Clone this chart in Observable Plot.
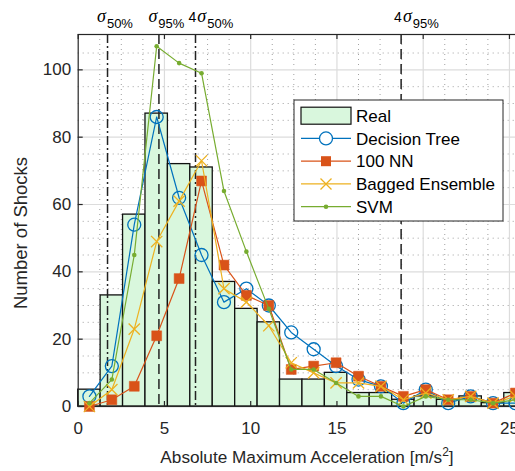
<!DOCTYPE html>
<html><head><meta charset="utf-8">
<script src="https://cdn.jsdelivr.net/npm/d3@7"></script>
<script src="https://cdn.jsdelivr.net/npm/@observablehq/plot@0.6"></script>
<style>
html,body{margin:0;padding:0;background:#fff;overflow:hidden}
#wrap{width:515px;height:471px;overflow:hidden;position:relative;background:#fff}
#wrap svg{display:block;max-width:none !important;width:530px !important;height:471px !important}
</style></head><body><div id="wrap"></div>
<script>
// ---- data ----
const binEdges = [0, 1.3, 2.6, 3.9, 5.2, 6.5, 7.8, 9.1, 10.4, 11.7, 13, 14.3, 15.6, 16.9, 18.2, 19.5, 20.8, 22.1, 23.4, 24.7, 26];
const realCounts   = [5, 33, 57, 87, 72, 71, 37, 29, 25, 8, 8, 10, 4, 4, 2, 3, 2, 3, 1, 4];
const decisionTree = [3, 12, 54, 86, 62, 45, 31, 35, 30, 22, 17, 12, 8, 6, 1, 5, 1, 3, 1, 1];
const nn100        = [0, 2, 6, 21, 38, 67, 42, 33, 30, 11, 12, 13, 9, 6, 3, 5, 2, 3, 1, 4];
const bagged       = [0, 5, 23, 49, 61, 73, 35, 31, 24, 13, 10, 7, 7, 6, 2, 4, 2, 3, 1, 3];
const svm          = [1, 8, 45, 107, 102, 99, 64, 46, 29, 11, 11, 7, 3, 3, 0, 3, 2, 2, 1, 2];
const seriesNames  = ["Decision Tree", "100 NN", "Bagged Ensemble", "SVM"];
const xMajorTicks = [0, 5, 10, 15, 20, 25];
const xMinorTicks = [1.25, 2.5, 3.75, 6.25, 7.5, 8.75, 11.25, 12.5, 13.75, 16.25, 17.5, 18.75, 21.25, 22.5, 23.75];
const yMajorTicks = [0, 20, 40, 60, 80, 100];
const yMinorTicks = [5, 10, 15, 25, 30, 35, 45, 50, 55, 65, 70, 75, 85, 90, 95, 105];
const refNames  = ["σ50%", "σ95%", "4σ50%", "4σ95%"];
const refValues = [1.7, 4.68, 6.8, 18.72];
const refPrefix = ["", "", "4", "4"];
const refSub    = ["50%", "95%", "50%", "95%"];
const refDash   = ["9,3,2,3", "10,5", "9,3,2,3", "10,5"];

// ---- derived tables ----
const bins = realCounts.map((c, i) => ({x1: binEdges[i], x2: binEdges[i + 1], count: c}));
const centers = realCounts.map((c, i) => (binEdges[i] + binEdges[i + 1]) / 2);
const toSeries = arr => arr.map((v, i) => ({x: centers[i], y: v}));
const dtData = toSeries(decisionTree), nnData = toSeries(nn100), bgData = toSeries(bagged), svData = toSeries(svm);
const refs = refValues.map((v, i) => ({x: v, dash: refDash[i]}));

const BLUE = "#0072BD", ORANGE = "#D95319", YELLOW = "#EDB120", GREEN = "#77AC30", AX = "#262626";

const W = 530, H = 471, mL = 77.7, mR = 3.8, mT = 34, mB = 65;
const frameW = W - mL - mR, frameH = H - mT - mB;

const plot = Plot.plot({
  width: W, height: H,
  marginTop: mT, marginBottom: mB, marginLeft: mL, marginRight: mR,
  x: {domain: [0, 26]},
  y: {domain: [0, 110.5]},
  style: {fontFamily: "'Liberation Sans', Arial, Helvetica, sans-serif", fontSize: "17px", color: AX, background: "#fff", overflow: "visible"},
  marks: [
    Plot.ruleX(xMinorTicks, {stroke: "#8a8a8a", strokeWidth: 1, strokeDasharray: "1,4", strokeOpacity: 0.8}),
    Plot.ruleY(yMinorTicks, {stroke: "#8a8a8a", strokeWidth: 1, strokeDasharray: "1,4", strokeOpacity: 0.8}),
    Plot.ruleX(xMajorTicks.slice(1), {stroke: "#dcdcdc", strokeWidth: 1.2}),
    Plot.ruleY(yMajorTicks.slice(1), {stroke: "#dcdcdc", strokeWidth: 1.2}),
    Plot.rect(bins, {x1: "x1", x2: "x2", y1: 0, y2: "count", fill: "#d9f7dd", stroke: "#111", strokeWidth: 1.3}),
    ...refs.map(r => Plot.ruleX([r.x], {stroke: "#222", strokeWidth: 1.5, strokeDasharray: r.dash})),
    Plot.frame({stroke: AX, strokeWidth: 1.2}),
    Plot.ruleX(xMajorTicks, {stroke: AX, strokeWidth: 1.2, insetTop: frameH - 5}),
    Plot.ruleX(xMajorTicks, {stroke: AX, strokeWidth: 1.2, insetBottom: frameH - 5}),
    Plot.ruleY(yMajorTicks, {stroke: AX, strokeWidth: 1.2, insetRight: frameW - 5}),
    Plot.axisX(xMajorTicks, {tickSize: 0, tickPadding: 15, label: null, fill: AX}),
    Plot.axisY(yMajorTicks, {tickSize: 0, tickPadding: 7, label: null, fill: AX}),
    Plot.line(dtData, {x: "x", y: "y", stroke: BLUE, strokeWidth: 1.2}),
    Plot.dot(dtData, {x: "x", y: "y", r: 6.5, stroke: BLUE, fill: "none", strokeWidth: 1.3}),
    Plot.line(nnData, {x: "x", y: "y", stroke: ORANGE, strokeWidth: 1.2}),
    Plot.dot(nnData, {x: "x", y: "y", symbol: "square", r: 5.6, fill: ORANGE, stroke: ORANGE, strokeWidth: 0.5}),
    Plot.line(bgData, {x: "x", y: "y", stroke: YELLOW, strokeWidth: 1.2}),
    Plot.dot(bgData, {x: "x", y: "y", symbol: "times", r: 5.2, stroke: YELLOW, strokeWidth: 1.3}),
    Plot.line(svData, {x: "x", y: "y", stroke: GREEN, strokeWidth: 1.2}),
    Plot.dot(svData, {x: "x", y: "y", r: 2.3, fill: GREEN, stroke: "none"})
  ]
});

plot.style.maxWidth = "none";
document.getElementById("wrap").appendChild(plot);
const svg = d3.select(plot);
const xs = plot.scale("x");

// reference labels above the frame
refValues.forEach((v, i) => {
  const px = xs.apply(v) - (refPrefix[i] ? 6.5 : 10);
  const t = svg.append("text").attr("x", px).attr("y", 22).attr("fill", "#000").attr("text-anchor", "start")
    .style("font-family", "'Liberation Sans', Arial, sans-serif");
  if (refPrefix[i]) t.append("tspan").style("font-size", "14px").text(refPrefix[i]);
  t.append("tspan").style("font-size", "18px").style("font-style", "italic")
    .style("font-family", "'Liberation Serif', 'Times New Roman', serif").attr("dx", refPrefix[i] ? 1 : 0).text("σ");
  t.append("tspan").style("font-size", "13px").attr("dx", 1).attr("dy", 6).text(refSub[i]);
});

// axis titles
const xl = svg.append("text").attr("x", 307).attr("y", 463).attr("text-anchor", "middle").attr("fill", AX)
  .style("font-size", "17.2px");
xl.append("tspan").text("Absolute Maximum Acceleration [m/s");
xl.append("tspan").attr("dy", -7).style("font-size", "12px").text("2");
xl.append("tspan").attr("dy", 7).text("]");
svg.append("text").attr("transform", "translate(27,233) rotate(-90)").attr("text-anchor", "middle")
  .attr("fill", AX).style("font-size", "18.5px").text("Number of Shocks");

// legend
const lg = svg.append("g");
const lx = 294, ly = 100, lw = 209, lh = 121;
lg.append("rect").attr("x", lx).attr("y", ly).attr("width", lw).attr("height", lh).attr("fill", "#fff").attr("stroke", AX).attr("stroke-width", 1);
const rowY = i => 115.7 + i * 22.75;
lg.append("rect").attr("x", 301).attr("y", rowY(0) - 8.5).attr("width", 50).attr("height", 17).attr("fill", "#d9f7dd").attr("stroke", "#111").attr("stroke-width", 1.2);
const cols = [BLUE, ORANGE, YELLOW, GREEN];
cols.forEach((c, i) => {
  const yy = rowY(i + 1);
  lg.append("line").attr("x1", 301).attr("x2", 351).attr("y1", yy).attr("y2", yy).attr("stroke", c).attr("stroke-width", 1.2);
});
lg.append("circle").attr("cx", 326).attr("cy", rowY(1)).attr("r", 6.5).attr("fill", "#fff").attr("stroke", BLUE).attr("stroke-width", 1.3);
lg.append("rect").attr("x", 321).attr("y", rowY(2) - 5).attr("width", 10).attr("height", 10).attr("fill", ORANGE);
lg.append("path").attr("d", `M320.5,${rowY(3)-5.5}L331.5,${rowY(3)+5.5}M320.5,${rowY(3)+5.5}L331.5,${rowY(3)-5.5}`).attr("stroke", YELLOW).attr("stroke-width", 1.3);
lg.append("circle").attr("cx", 326).attr("cy", rowY(4)).attr("r", 2.3).attr("fill", GREEN);
["Real", ...seriesNames].forEach((n, i) => {
  lg.append("text").attr("x", 356).attr("y", rowY(i)).attr("dy", "0.36em").attr("text-anchor", "start").attr("fill", "#000").style("font-size", "17px").text(n);
});
</script></body></html>
